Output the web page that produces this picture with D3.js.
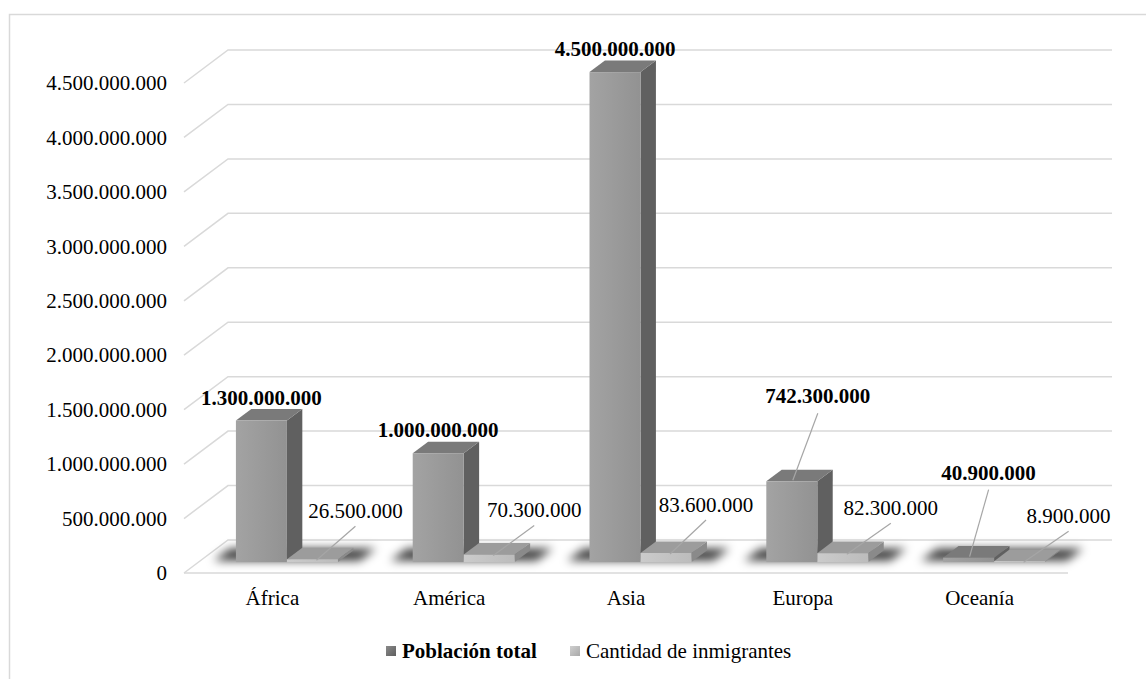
<!DOCTYPE html>
<html>
<head>
<meta charset="utf-8">
<script src="https://cdn.jsdelivr.net/npm/d3@7/dist/d3.min.js"></script>
<style>
  html, body { margin: 0; padding: 0; background: #fff; }
  svg text { font-family: "Liberation Serif", "Times New Roman", serif; fill: #000; }
</style>
</head>
<body>
<svg id="chart" width="1146" height="679"></svg>
<script>
// ---- Data ----
const categories = ["África", "América", "Asia", "Europa", "Oceanía"];
const seriesNames = ["Población total", "Cantidad de inmigrantes"];
const poblacionTotal = [1300000000, 1000000000, 4500000000, 742300000, 40900000];
const cantidadInmigrantes = [26500000, 70300000, 83600000, 82300000, 8900000];
const yTickValues = [0, 500000000, 1000000000, 1500000000, 2000000000, 2500000000, 3000000000, 3500000000, 4000000000, 4500000000];

// ---- Layout (label offsets relative to bar top-front centre) ----
const popLabelOffsets = [[0, -16, false], [0, -16, false], [0, -16, false], [26, -78, true], [20, -78, true]];
const immLabelOffsets = [[43, -41], [45, -37], [40, -41], [48, -38], [49, -38]];

const svg = d3.select("#chart");
const FONT = 21;
const FAMILY = "'Liberation Serif', 'Times New Roman', serif";
const fmt = d3.formatLocale({ decimal: ",", thousands: ".", grouping: [3], currency: ["", ""] }).format(",");

// projection
const DX = 44, DY = -33;
const x = d3.scaleBand().domain(categories).range([184, 1068]).padding(0);
const y = d3.scaleLinear().domain([0, 4500000000]).range([573, 83]);
const xs = d3.scaleBand().domain(seriesNames).range([0, x.bandwidth()]).paddingInner(0).paddingOuter(0.733);
const D1 = 0.33, D2 = 0.68;
const P = (px, v, d) => [px + DX * d, y(v) + DY * d];

const defs = svg.append("defs");
const blur = defs.append("filter").attr("id", "blur").attr("filterUnits", "userSpaceOnUse")
  .attr("x", 0).attr("y", 0).attr("width", 1146).attr("height", 679);
blur.append("feGaussianBlur").attr("stdDeviation", 5);
const g1 = defs.append("linearGradient").attr("id", "popFront").attr("x1", 0).attr("x2", 1).attr("y1", 0).attr("y2", 0);
g1.append("stop").attr("offset", 0).attr("stop-color", "#a3a3a3");
g1.append("stop").attr("offset", 1).attr("stop-color", "#929292");
const g2 = defs.append("linearGradient").attr("id", "immFront").attr("x1", 0).attr("x2", 1).attr("y1", 0).attr("y2", 0);
g2.append("stop").attr("offset", 0).attr("stop-color", "#cbcbcb");
g2.append("stop").attr("offset", 1).attr("stop-color", "#bcbcbc");
const g3 = defs.append("linearGradient").attr("id", "popLeg").attr("x1", 0).attr("x2", 1).attr("y1", 0).attr("y2", 1);
g3.append("stop").attr("offset", 0).attr("stop-color", "#8a8a8a");
g3.append("stop").attr("offset", 1).attr("stop-color", "#5e5e5e");
const g4 = defs.append("linearGradient").attr("id", "immLeg").attr("x1", 0).attr("x2", 1).attr("y1", 0).attr("y2", 1);
g4.append("stop").attr("offset", 0).attr("stop-color", "#cfcfcf");
g4.append("stop").attr("offset", 1).attr("stop-color", "#a9a9a9");

// frame
svg.append("path").attr("d", "M9.5,690 L9.5,14.5 L1160,14.5").attr("fill", "none").attr("stroke", "#d9d9d9").attr("stroke-width", 1.5);

const grid = svg.append("g").attr("stroke", "#d9d9d9").attr("stroke-width", 1.5).attr("fill", "none");
const x0 = x.range()[0], x1 = x.range()[1];
yTickValues.forEach(v => {
  const a = P(x0, v, 0), b = P(x0, v, 1), c = P(x1, v, 1);
  grid.append("path").attr("d", `M${a}L${b}L${c}`);
});
grid.append("path").attr("d", `M${P(x0, 0, 0)}L${P(x1, 0, 0)}`);

// y axis
const yAxis = svg.append("g").attr("transform", `translate(${x0},0)`)
  .call(d3.axisLeft(y).tickValues(yTickValues).tickSize(0).tickPadding(17).tickFormat(fmt));
yAxis.attr("font-family", null).attr("font-size", null);
yAxis.select(".domain").remove();
yAxis.selectAll("text").style("font-size", FONT + "px").style("font-family", FAMILY);

// x axis
const xAxis = svg.append("g").attr("transform", `translate(0,${y(0)})`)
  .call(d3.axisBottom(x).tickSize(0).tickPadding(17));
xAxis.attr("font-family", null).attr("font-size", null);
xAxis.select(".domain").remove();
xAxis.selectAll("text").style("font-size", FONT + "px").style("font-family", FAMILY);

// shadows
const shadowG = svg.append("g").attr("filter", "url(#blur)");
categories.forEach((c, i) => {
  const l = x(c) + xs(seriesNames[0]) - 24;
  const r = x(c) + xs(seriesNames[1]) + xs.bandwidth() + 20;
  const pts = [P(l, 0, D1 + 0.04), P(r, 0, D1 + 0.04), P(r, 0, D2 + 0.06), P(l, 0, D2 + 0.06)];
  shadowG.append("polygon").attr("points", pts.join(" ")).attr("fill", "#000").attr("opacity", 0.75);
});

// bars
const series = [
  { name: seriesNames[0], values: poblacionTotal, front: "url(#popFront)", top: "#7a7a7a", side: "#606060" },
  { name: seriesNames[1], values: cantidadInmigrantes, front: "url(#immFront)", top: "#9c9c9c", side: "#8a8a8a" }
];
const barsG = svg.append("g");
categories.forEach((c, i) => {
  series.forEach(s => {
    const v = s.values[i];
    const l = x(c) + xs(s.name), r = l + xs.bandwidth();
    const g = barsG.append("g");
    g.append("polygon").attr("points", [P(r, v, D1), P(r, v, D2), P(r, 0, D2), P(r, 0, D1)].join(" ")).attr("fill", s.side);
    g.append("polygon").attr("points", [P(l, v, D1), P(r, v, D1), P(r, v, D2), P(l, v, D2)].join(" ")).attr("fill", s.top);
    const [fx, fy] = P(l, v, D1);
    const [, by] = P(l, 0, D1);
    g.append("rect").attr("x", fx).attr("y", fy).attr("width", r - l).attr("height", Math.max(0.5, by - fy)).attr("fill", s.front);
  });
});

// labels
const labG = svg.append("g");
categories.forEach((c, i) => {
  {
    const v = poblacionTotal[i];
    const l = x(c) + xs(seriesNames[0]);
    const [ax, ay] = P(l + xs.bandwidth() / 2, v, D1);
    const [ox, oy, leader] = popLabelOffsets[i];
    if (leader) {
      labG.append("line").attr("x1", ax + ox).attr("y1", ay + oy + 10).attr("x2", ax + 1).attr("y2", ay - 1)
        .attr("stroke", "#a6a6a6").attr("stroke-width", 1.2);
    }
    labG.append("text").attr("x", ax + ox).attr("y", ay + oy).attr("text-anchor", "middle")
      .style("font-size", FONT + "px").style("font-family", FAMILY).attr("font-weight", "bold").text(fmt(v));
  }
  {
    const v = cantidadInmigrantes[i];
    const l = x(c) + xs(seriesNames[1]);
    const [ax, ay] = P(l + xs.bandwidth() / 2, v, D1);
    const [ox, oy] = immLabelOffsets[i];
    labG.append("line").attr("x1", ax + ox).attr("y1", ay + oy + 8).attr("x2", ax + 4).attr("y2", ay + 1)
      .attr("stroke", "#a6a6a6").attr("stroke-width", 1.2);
    labG.append("text").attr("x", ax + ox).attr("y", ay + oy).attr("text-anchor", "middle")
      .style("font-size", FONT + "px").style("font-family", FAMILY).text(fmt(v));
  }
});

// legend
const leg = svg.append("g");
const legItems = [
  { name: seriesNames[0], fill: "url(#popLeg)", bold: true, x: 386 },
  { name: seriesNames[1], fill: "url(#immLeg)", bold: false, x: 570 }
];
legItems.forEach(it => {
  leg.append("rect").attr("x", it.x).attr("y", 646).attr("width", 10).attr("height", 10).attr("fill", it.fill);
  leg.append("text").attr("x", it.x + 16).attr("y", 658).style("font-size", FONT + "px").style("font-family", FAMILY)
    .attr("font-weight", it.bold ? "bold" : "normal").text(it.name);
});
</script>
</body>
</html>
